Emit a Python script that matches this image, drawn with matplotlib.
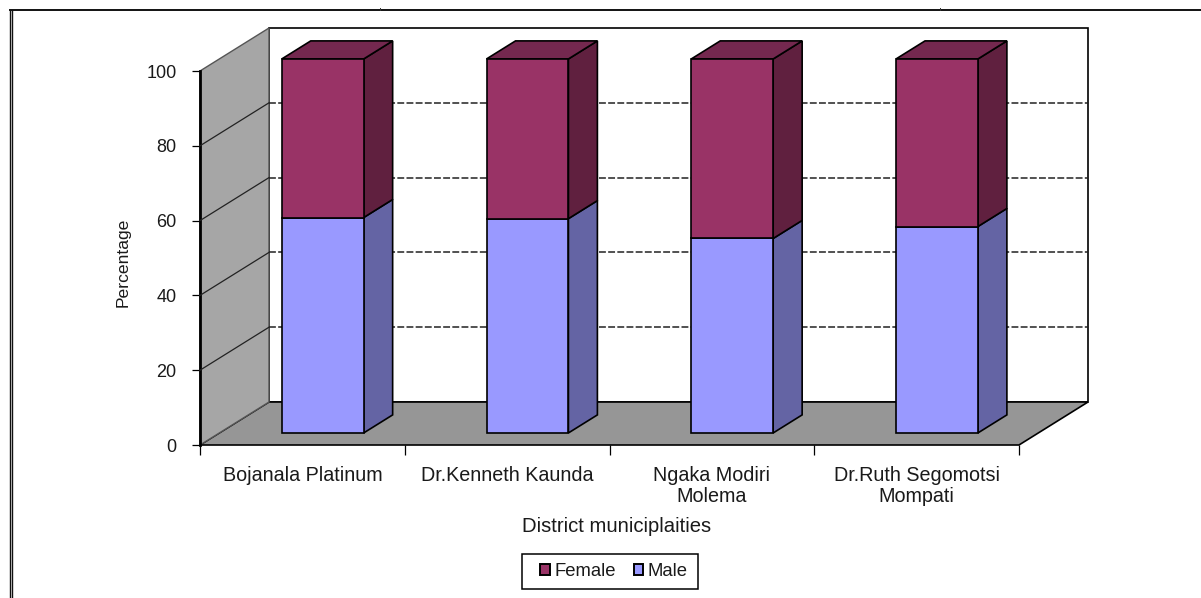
#!/bin/env python3

import numpy as np
import matplotlib
matplotlib.use('Agg')
import matplotlib.pyplot as plt
from matplotlib.lines import Line2D
from matplotlib.patches import Patch, Polygon, Rectangle

plt.rcParams['font.family'] = ['Liberation Sans', 'DejaVu Sans']

districts = ['Bojanala Platinum', 'Dr.Kenneth Kaunda', 'Ngaka Modiri\nMolema', 'Dr.Ruth Segomotsi\nMompati']
male = np.array([57.6, 57.3, 52.0, 55.2])
female = np.array([42.4, 42.7, 48.0, 44.8])
y_ticks = [0, 20, 40, 60, 80, 100]

W, H = 1201, 598
# depth of the 3d box, in data units
DX, DY = 69/204.75, 43/3.74
TXT = '#1a1a1a'

def proj(x, y, d):
    return x + d*DX, y + d*DY

def face(ax, pts, color, ec='black', lw=1.2, z=3):
    ax.add_patch(Polygon(pts, closed=True, fc=color, ec=ec, lw=lw, zorder=z, clip_on=False, joinstyle='miter'))

def box(ax, x0, x1, y0, y1, front, side, top=None, d0=0.28, d1=0.70):
    face(ax, [proj(x1, y0, d0), proj(x1, y0, d1), proj(x1, y1, d1), proj(x1, y1, d0)], side)
    if top is not None:
        face(ax, [proj(x0, y1, d0), proj(x1, y1, d0), proj(x1, y1, d1), proj(x0, y1, d1)], top)
    face(ax, [proj(x0, y0, d0), proj(x1, y0, d0), proj(x1, y1, d0), proj(x0, y1, d0)], front)

fig = plt.figure(figsize=(W/100, H/100), dpi=100)
ax = fig.add_axes([200/W, (H-445)/H, 819/W, 374/H])
n = len(districts)
ax.set(xlim=(0, n), ylim=(0, 100))
ax.patch.set_visible(False)
for s in ax.spines.values(): s.set_visible(False)

# walls and floor
face(ax, [proj(0, 0, 1), proj(n, 0, 1), proj(n, 100, 1), proj(0, 100, 1)], 'white', z=1)
face(ax, [proj(0, 0, 0), proj(n, 0, 0), proj(n, 0, 1), proj(0, 0, 1)], '#969696', lw=1.2, z=1.2)
face(ax, [proj(0, 0, 0), proj(0, 0, 1), proj(0, 100, 1), proj(0, 100, 0)], '#a6a6a6', ec='#555555', lw=1, z=1.2)
ax.plot([0, 0], [0, 100], color='black', lw=2, zorder=2, clip_on=False)

for v in y_ticks[1:-1]:
    xs, ys = zip(proj(0, v, 0), proj(0, v, 1))
    ax.plot(xs, ys, color='#222222', lw=0.9, zorder=2, clip_on=False)
    xs, ys = zip(proj(0, v, 1), proj(n, v, 1))
    ax.plot(xs, ys, color='#222222', lw=1.1, ls=(0, (4.5, 1.5)), zorder=2, clip_on=False)

# stacked columns
for i in range(n):
    box(ax, i+0.305, i+0.705, 0, male[i], '#9999ff', '#6464a4')
    box(ax, i+0.305, i+0.705, male[i], male[i]+female[i], '#993366', '#60203f', top='#74284f')

ax.set_yticks(y_ticks)
ax.set_xticks(range(n+1))
ax.set_xticklabels([])
ax.set_xticks(np.arange(n)+0.5, districts, minor=True, color=TXT, fontsize=14.2, linespacing=1.13)
ax.tick_params(axis='x', which='minor', length=0, pad=15)
ax.tick_params(axis='x', which='major', length=7, width=0.9)
ax.tick_params(axis='y', length=6, width=0.9, pad=11, labelsize=13, labelcolor=TXT)

fig.text(123/W, 1-262/H, 'Percentage', rotation=90, ha='center', va='center', fontsize=12.6, color=TXT)
fig.text(617/W, 1-526/H, 'District municiplaities', ha='center', va='center', fontsize=14.6, color=TXT)

# legend box is wider than the entries, so it is drawn on its own
fig.add_artist(Rectangle((522/W, 1-589/H), 176/W, 35/H, fc='white', ec='black', lw=1.1))
handles = [Patch(fc='#993366', ec='black', lw=1.4), Patch(fc='#9999ff', ec='black', lw=1.4)]
fig.legend(handles, ['Female', 'Male'], ncol=2, loc='center', bbox_to_anchor=(614/W, 1-571.5/H),
           fontsize=13.3, frameon=False, labelcolor=TXT, handlelength=0.5, handleheight=0.5,
           handletextpad=0.25, columnspacing=0.97, borderpad=0.2, borderaxespad=0)

# outer frame
for xs, ys, lw in [((9.5, 9.5), (0, 588), 1), ((11.5, 11.5), (0, 588), 1), ((9.5, W), (588, 588), 1.4)]:
    fig.add_artist(Line2D(np.array(xs)/W, np.array(ys)/H, color='#111111', lw=lw))
for px in (380, 940):
    fig.add_artist(Line2D([px/W, px/W], [588/H, 590/H], color='#333333', lw=0.7))

fig.savefig('out.png', dpi=100)
